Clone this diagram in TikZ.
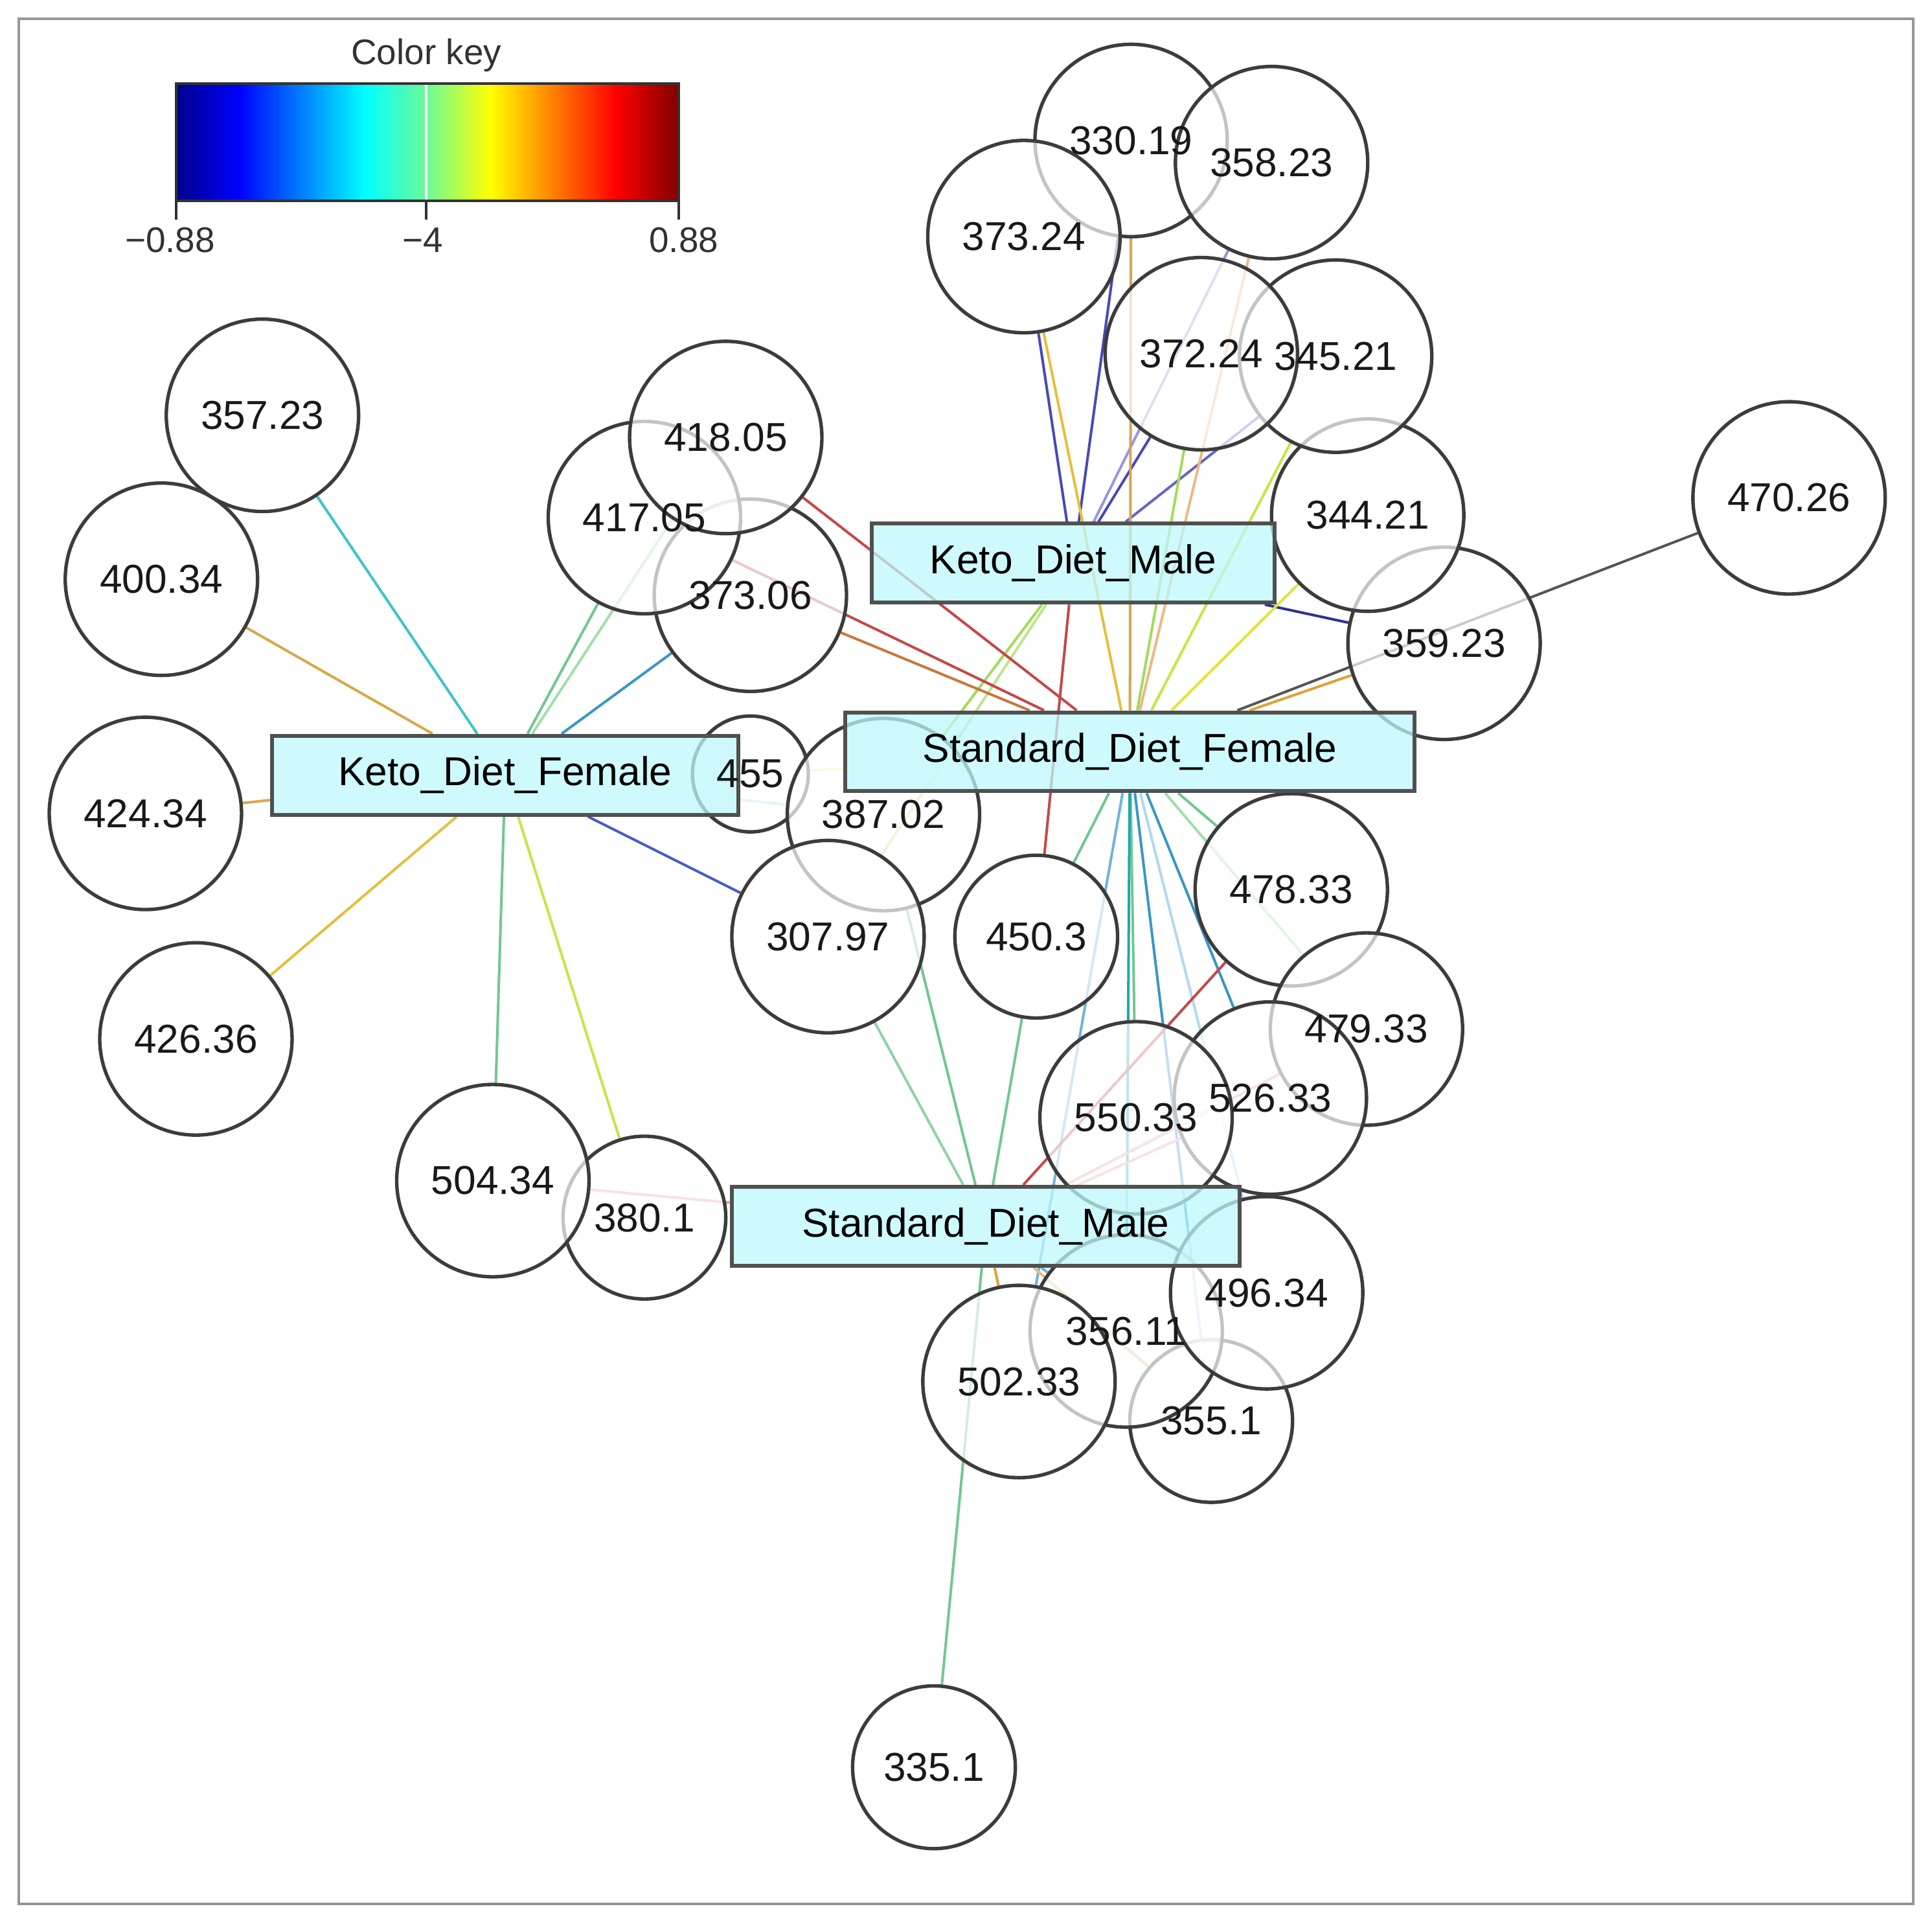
\documentclass[tikz,border=0pt]{standalone}
\usepackage{fontspec}
\setmainfont{Liberation Sans}
\usepackage{xcolor}
\usepackage{tikz}
\usetikzlibrary{backgrounds}

\definecolor{ringgray}{RGB}{60,60,60}
\definecolor{boxcyan}{RGB}{190,248,252}
\definecolor{boxedge}{RGB}{80,80,80}
\definecolor{framegray}{RGB}{150,150,150}
\definecolor{keytext}{RGB}{50,50,50}
% jet colours of the key
\definecolor{jetA}{RGB}{0,0,140}
\definecolor{jetB}{RGB}{0,0,255}
\definecolor{jetC}{RGB}{0,255,255}
\definecolor{jetD}{RGB}{110,250,150}
\definecolor{jetE}{RGB}{255,255,0}
\definecolor{jetF}{RGB}{255,0,0}
\definecolor{jetG}{RGB}{128,0,0}
% edge colours
\definecolor{cBlue}{RGB}{72,72,184}
\definecolor{cNavy}{RGB}{48,48,150}
\definecolor{cLav}{RGB}{150,150,224}
\definecolor{cSlate}{RGB}{100,100,200}
\definecolor{cGold}{RGB}{230,190,60}
\definecolor{cTan}{RGB}{214,164,80}
\definecolor{cPeach}{RGB}{236,184,130}
\definecolor{cRed}{RGB}{196,72,72}
\definecolor{cOrange}{RGB}{200,120,60}
\definecolor{cAmber}{RGB}{226,160,50}
\definecolor{cSea}{RGB}{112,200,144}
\definecolor{cMint}{RGB}{160,224,168}
\definecolor{cLime}{RGB}{160,220,90}
\definecolor{cYelGr}{RGB}{200,228,70}
\definecolor{cYellow}{RGB}{224,228,60}
\definecolor{cPaleYel}{RGB}{240,240,160}
\definecolor{cCyan}{RGB}{60,196,200}
\definecolor{cTeal}{RGB}{32,168,170}
\definecolor{cSky}{RGB}{58,150,200}
\definecolor{cSkyLt}{RGB}{110,180,220}
\definecolor{cIce}{RGB}{176,216,240}
\definecolor{cKdfBlue}{RGB}{70,90,200}
\definecolor{cGray}{RGB}{85,85,85}
\definecolor{cPink}{RGB}{230,160,160}
\definecolor{cGoldOr}{RGB}{216,168,72}

\begin{document}
\begin{tikzpicture}[x=0.01cm, y=-0.01cm,
    mz/.style={circle, draw=ringgray, line width=0.8pt, fill=white, fill opacity=0.7,
      inner sep=0pt, minimum size=1.56cm},
    mzs/.style={mz, minimum size=1.32cm},
    mztxt/.style={inner sep=0pt, text=black!90, font=\fontsize{9.3}{11}\selectfont},
    diet/.style={rectangle, draw=boxedge, line width=0.9pt, fill=boxcyan, fill opacity=0.75,
      text opacity=1, inner sep=0pt, minimum height=0.64cm,
      font=\fontsize{9.3}{11}\selectfont},
    lnk/.style={line width=0.6pt},
    keylbl/.style={text=keytext, font=\fontsize{8.2}{10}\selectfont}]
    \useasboundingbox (0,0) rectangle (1568,1561);
    \draw[framegray, line width=0.6pt] (15,15) rectangle (1553,1545);

    % Color key
    \node[keylbl] (keytitle) at (346,45) {Color key};
    \shade[left color=jetA, right color=jetB] (143,68) rectangle (194,163);
    \shade[left color=jetB, right color=jetC] (194,68) rectangle (296,163);
    \shade[left color=jetC, right color=jetD] (296,68) rectangle (347,163);
    \shade[left color=jetD, right color=jetE] (347,68) rectangle (398,163);
    \shade[left color=jetE, right color=jetF] (398,68) rectangle (500,163);
    \shade[left color=jetF, right color=jetG] (500,68) rectangle (551,163);
    \draw[white, line width=0.6pt] (346,68) -- (346,163);
    \draw[keytext, line width=0.6pt] (143,68) rectangle (551,163);
    \foreach \x in {143,346,551}
        \draw[keytext, line width=0.6pt] (\x,163) -- (\x,178);
    \node[keylbl] (keylo) at (138,195) {−0.88};
    \node[keylbl] (keymid) at (343,195) {−4};
    \node[keylbl] (keyhi) at (555,195) {0.88};

    % metabolites, top cluster
    \node[mz] (m33019) at (918,114) {};
    \node[mz] (m35823) at (1032,132) {};
    \node[mz] (m37324) at (831,192) {};
    \node[mz] (m35923) at (1172,522) {};
    \node[mz] (m34421) at (1110,418) {};
    \node[mz] (m34521) at (1084,289) {};
    \node[mz] (m37224) at (975,287) {};
    \node[mz] (m47026) at (1452,404) {};

    % metabolites, left
    \node[mz] (m35723) at (213,337) {};
    \node[mz] (m40034) at (131,470) {};
    \node[mz] (m42434) at (118,660) {};
    \node[mz] (m42636) at (159,843) {};
    \node[mz] (m37306) at (609,483) {};
    \node[mz] (m41705) at (523,420) {};
    \node[mz] (m41805) at (589,355) {};

    % metabolites, middle
    \node[mz, minimum size=0.94cm] (m455) at (609,628) {};
    \node[mz] (m38702) at (717,661) {};
    \node[mz] (m30797) at (672,760) {};
    \node[mzs] (m4503) at (841,760) {};
    \node[mz] (m47833) at (1048,722) {};
    \node[mz] (m47933) at (1109,835) {};
    \node[mz] (m52633) at (1031,891) {};
    \node[mz] (m55033) at (922,907) {};

    % metabolites, bottom
    \node[mzs] (m3801) at (523,988) {};
    \node[mz] (m50434) at (400,958) {};
    \node[mzs] (m3551) at (983,1153) {};
    \node[mz] (m35611) at (914,1080) {};
    \node[mz] (m50233) at (827,1121) {};
    \node[mz] (m49634) at (1028,1049) {};
    \node[mzs] (m3351) at (758,1434) {};

    % diet groups
    \node[diet, minimum width=3.78cm] (kdf) at (410,629) {Keto\_Diet\_Female};
    \node[diet, minimum width=3.27cm] (kdm) at (871,457) {Keto\_Diet\_Male};
    \node[diet, minimum width=4.62cm] (sdf) at (917,610) {Standard\_Diet\_Female};
    \node[diet, minimum width=4.12cm] (sdm) at (800,995) {Standard\_Diet\_Male};

    % mass labels on top of every ring
    \foreach \n/\t in {m33019/330.19, m35823/358.23, m37324/373.24, m35923/359.23,
        m34421/344.21, m34521/345.21, m37224/372.24, m47026/470.26,
        m35723/357.23, m40034/400.34, m42434/424.34, m42636/426.36,
        m37306/373.06, m41705/417.05, m41805/418.05, m455/455,
        m38702/387.02, m30797/307.97, m4503/450.3, m47833/478.33,
        m47933/479.33, m52633/526.33, m55033/550.33, m3801/380.1,
        m50434/504.34, m3551/355.1, m35611/356.11, m50233/502.33,
        m49634/496.34, m3351/335.1}
        \node[mztxt] at (\n.center) {\t};

    % edges
    \begin{scope}[on background layer]
        \draw[lnk, cCyan] (m35723) -- (kdf);
        \draw[lnk, cGoldOr] (m40034) -- (kdf);
        \draw[lnk, cGoldOr] (m42434) -- (kdf);
        \draw[lnk, cGold] (m42636) -- (kdf);
        \draw[lnk, cSea] (m41705) -- (kdf);
        \draw[lnk, cMint] (m41805) -- (kdf);
        \draw[lnk, cSky] (m37306) -- (kdf);
        \draw[lnk, cKdfBlue] (m30797) -- (kdf);
        \draw[lnk, cSea] (m50434) -- (kdf);
        \draw[lnk, cYelGr] (m3801) -- (kdf);
        \draw[lnk, cIce] (m38702) -- (kdf);

        \draw[lnk, cBlue] (m37324) -- (kdm);
        \draw[lnk, cBlue] (m33019) -- (kdm);
        \draw[lnk, cLav] (m35823) -- (kdm);
        \draw[lnk, cBlue] (m37224) -- (kdm);
        \draw[lnk, cSlate] (m34521) -- (kdm);
        \draw[lnk, cNavy] (m35923) -- (kdm);
        \draw[lnk, cRed] (m4503) -- (kdm);
        \draw[lnk, cLime] (m38702) -- (kdm);
        \draw[lnk, cLime!70!white] (m30797) -- (kdm);

        \draw[lnk, cGold] (m37324) -- (sdf);
        \draw[lnk, cTan] (m33019) -- (sdf);
        \draw[lnk, cPeach] (m35823) -- (sdf);
        \draw[lnk, cLime] (m37224) -- (sdf);
        \draw[lnk, cYelGr] (m34521) -- (sdf);
        \draw[lnk, cYellow] (m34421) -- (sdf);
        \draw[lnk, cAmber] (m35923) -- (sdf);
        \draw[lnk, cGray] (m47026) -- (sdf);
        \draw[lnk, cRed] (m41805) -- (sdf);
        \draw[lnk, cRed] (m41705) -- (sdf);
        \draw[lnk, cOrange] (m37306) -- (sdf);
        \draw[lnk, cPaleYel] (m455) -- (sdf);
        \draw[lnk, cSea] (m4503) -- (sdf);
        \draw[lnk, cSea] (m55033) -- (sdf);
        \draw[lnk, cTeal] (m35611) -- (sdf);
        \draw[lnk, cSkyLt] (m50233) -- (sdf);
        \draw[lnk, cSky] (m3551) -- (sdf);
        \draw[lnk, cSky] (m52633) -- (sdf);
        \draw[lnk, cSea] (m47833) -- (sdf);
        \draw[lnk, cMint] (m47933) -- (sdf);
        \draw[lnk, cIce] (m49634) -- (sdf);

        \draw[lnk, cSea!80!white] (m30797) -- (sdm);
        \draw[lnk, cSea] (m38702) -- (sdm);
        \draw[lnk, cSea] (m4503) -- (sdm);
        \draw[lnk, cRed] (m47833) -- (sdm);
        \draw[lnk, cPink] (m47933) -- (sdm);
        \draw[lnk, cPink] (m52633) -- (sdm);
        \draw[lnk, cPink] (m50434) -- (sdm);
        \draw[lnk, cAmber] (m50233) -- (sdm);
        \draw[lnk, cSkyLt] (m35611) -- (sdm);
        \draw[lnk, cSea] (m3351) -- (sdm);
        \draw[lnk, cPeach] (m3551) -- (sdm);
    \end{scope}
\end{tikzpicture}
\end{document}
